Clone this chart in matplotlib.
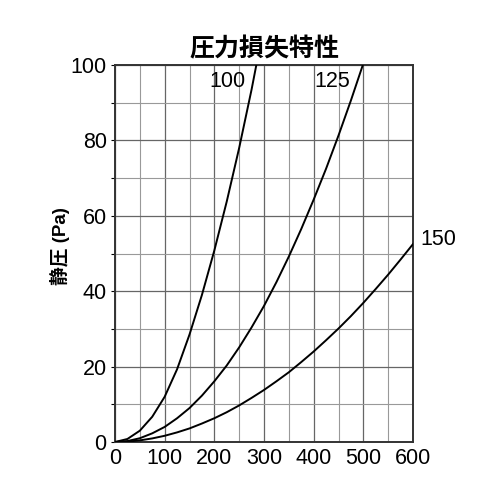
import numpy as np
import matplotlib
matplotlib.use("Agg")
import matplotlib.pyplot as plt
from matplotlib.ticker import MultipleLocator

plt.rcParams['font.family'] = ['Liberation Sans', 'Noto Sans CJK JP']

# air volume (x) and static pressure for each size
x_100 = [0, 25, 50, 75, 100, 125, 150, 175, 200, 225, 250, 275, 300]
p_100 = [0, 0.8, 3.0, 6.7, 12.0, 19.3, 28.5, 39.0, 50.8, 63.8, 78, 93.5, 110.5]

x_125 = [0, 25, 50, 75, 100, 125, 150, 175, 200, 225, 250, 275, 300,
         325, 350, 375, 400, 425, 450, 475, 500, 525]
p_125 = [0, 0.25, 1.0, 2.3, 4.0, 6.3, 9.0, 12.3, 16.1, 20.3, 25.1, 30.4, 36.1,
         42.4, 49.2, 56.5, 64.3, 72.5, 81.3, 90.6, 100.4, 111]

x_150 = [0, 25, 50, 75, 100, 125, 150, 175, 200, 225, 250, 275, 300,
         325, 350, 375, 400, 425, 450, 475, 500, 525, 550, 575, 600]
p_150 = [0, 0.1, 0.43, 0.95, 1.65, 2.55, 3.6, 4.9, 6.3, 7.9, 9.7, 11.7, 13.8,
         16.1, 18.5, 21.2, 24.0, 27.0, 30.1, 33.4, 36.9, 40.6, 44.4, 48.4, 52.5]

labels = ['100', '125', '150']
label_pos = [(227, 95.5), (438, 95.5), (614, 53.6)]

fig = plt.figure(figsize=(5, 5), dpi=100)
ax = fig.add_axes([0.23, 0.116, 0.596, 0.754])

for xs, ps in [(x_100, p_100), (x_125, p_125), (x_150, p_150)]:
    ax.plot(xs, ps, color='black', lw=1.4, zorder=3)

ax.set_xlim(0, 600)
ax.set_ylim(0, 100)
ax.xaxis.set_major_locator(MultipleLocator(100))
ax.xaxis.set_minor_locator(MultipleLocator(50))
ax.yaxis.set_major_locator(MultipleLocator(20))
ax.yaxis.set_minor_locator(MultipleLocator(10))
ax.grid(which='major', color='#666666', lw=0.9)
ax.grid(which='minor', color='#999999', lw=0.8)
ax.set_axisbelow(True)

for s in ax.spines.values():
    s.set_linewidth(1.4)
    s.set_color('#333333')

ax.tick_params(axis='x', which='both', length=0, labelsize=15.5, pad=4)
ax.tick_params(axis='y', which='both', length=3, width=0.8, labelsize=15.5, pad=3)

# curve labels
for lab, (lx, ly) in zip(labels[:2], label_pos[:2]):
    ax.text(lx, ly, lab, ha='center', va='center', fontsize=15.5, zorder=4)
ax.text(label_pos[2][0], label_pos[2][1], labels[2], ha='left', va='center',
        fontsize=15.5, clip_on=False)

ax.set_title('圧力損失特性', fontsize=18, fontweight='bold', pad=6)
ax.set_ylabel('静圧 (Pa)', fontsize=13.5, fontweight='bold', labelpad=4)
ax.yaxis.set_label_coords(-0.15, 0.52)

fig.savefig('out.png', dpi=100)
